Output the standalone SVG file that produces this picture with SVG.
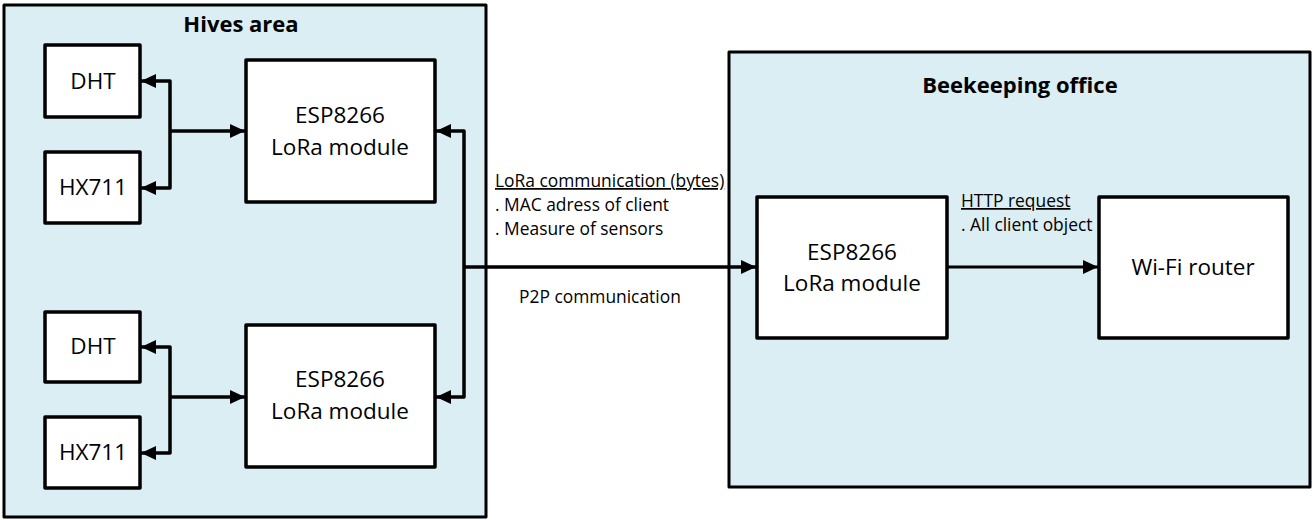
<svg xmlns="http://www.w3.org/2000/svg" width="1313" height="520" viewBox="0 0 1313 520">
<style>
.area{fill:#DAEEF3;stroke:#000;stroke-width:3;stroke-linejoin:round}
.box{fill:#fff;stroke:#000;stroke-width:3.5;stroke-linejoin:round}
.t{font-family:"Open Sans","Liberation Sans",sans-serif;fill:#000}
.big{font-size:22.5px;text-anchor:middle}
.title{font-size:22px;font-weight:bold;text-anchor:middle}
.small{font-size:17.4px}
.u{text-decoration:underline}
.c{fill:none;stroke:#000;stroke-width:3.5;stroke-linejoin:round}
.c2{fill:none;stroke:#000;stroke-width:3;stroke-linejoin:round}
</style>
<defs>
<marker id="arr" markerUnits="userSpaceOnUse" markerWidth="16" markerHeight="14" refX="15" refY="7" orient="auto-start-reverse">
<path d="M0,0 L15,7 L0,14 z" fill="#000"/>
</marker>
</defs>
<rect width="1313" height="520" fill="#fff"/>

<g id="hives-area">
<rect class="area" x="4" y="5" width="482" height="512"/>
<text class="t title" x="241" y="32">Hives area</text>
</g>
<g id="beekeeping-office">
<rect class="area" x="729" y="52" width="581" height="435"/>
<text class="t title" x="1020" y="93">Beekeeping office</text>
</g>

<g id="dht-1">
<rect class="box" x="45" y="45" width="95" height="72"/>
<text class="t big" x="93" y="89">DHT</text>
</g>
<g id="hx711-1">
<rect class="box" x="45" y="152" width="95" height="71"/>
<text class="t big" x="93" y="195">HX711</text>
</g>
<g id="esp-1">
<rect class="box" x="246" y="60" width="189" height="142"/>
<text class="t big" x="340" y="123">ESP8266</text>
<text class="t big" x="340" y="155">LoRa module</text>
</g>
<g id="dht-2">
<rect class="box" x="45" y="312" width="95" height="70"/>
<text class="t big" x="93" y="354">DHT</text>
</g>
<g id="hx711-2">
<rect class="box" x="45" y="417" width="95" height="71"/>
<text class="t big" x="93" y="460">HX711</text>
</g>
<g id="esp-2">
<rect class="box" x="246" y="325" width="189" height="142"/>
<text class="t big" x="340" y="387">ESP8266</text>
<text class="t big" x="340" y="419">LoRa module</text>
</g>
<g id="esp-office">
<rect class="box" x="757" y="197" width="190" height="141"/>
<text class="t big" x="852" y="260">ESP8266</text>
<text class="t big" x="852" y="291">LoRa module</text>
</g>
<g id="wifi-router">
<rect class="box" x="1099" y="197" width="189" height="141"/>
<text class="t big" x="1193" y="275">Wi-Fi router</text>
</g>

<g id="connectors">
<path class="c" d="M141,81 H170 V188 H141" marker-start="url(#arr)" marker-end="url(#arr)"/>
<path class="c" d="M170,131 H245" marker-end="url(#arr)"/>
<path class="c" d="M141,347 H170 V453 H141" marker-start="url(#arr)" marker-end="url(#arr)"/>
<path class="c" d="M170,397 H245" marker-end="url(#arr)"/>
<path class="c" d="M436,131 H464 V397 H436" marker-start="url(#arr)" marker-end="url(#arr)"/>
<path class="c" d="M464,267 H756" marker-end="url(#arr)"/>
<path class="c2" d="M948,267 H1098" marker-end="url(#arr)"/>
</g>

<g id="labels">
<text class="t small u" x="495" y="187">LoRa communication (bytes)</text>
<text class="t small" x="495" y="211">. MAC adress of client</text>
<text class="t small" x="495" y="235">. Measure of sensors</text>
<text class="t small" x="519" y="303">P2P communication</text>
<text class="t small u" x="961" y="207">HTTP request</text>
<text class="t small" x="961" y="231">. All client object</text>
</g>
</svg>
